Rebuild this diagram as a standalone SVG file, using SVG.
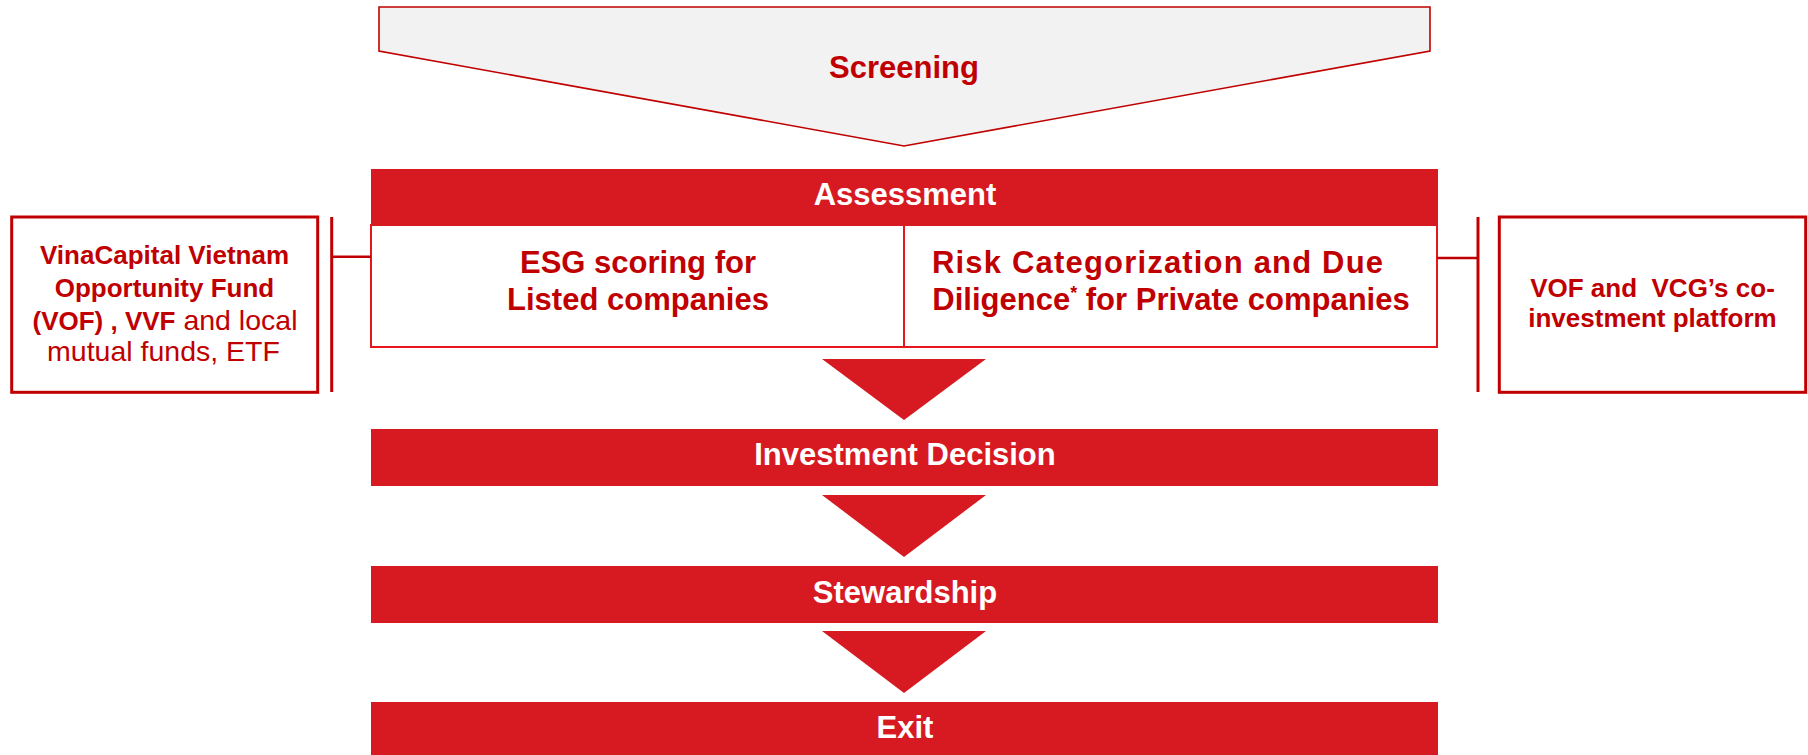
<svg xmlns="http://www.w3.org/2000/svg" width="1808" height="755" viewBox="0 0 1808 755">
  <style>
    .bar { fill: #D71A21; }
    .bar-label { font-family: "Liberation Sans", Arial, sans-serif; font-weight: bold; font-size: 31px; fill: #FFFFFF; text-anchor: middle; }
    .dark-label { font-family: "Liberation Sans", Arial, sans-serif; font-weight: bold; font-size: 31px; fill: #C00000; text-anchor: middle; }
    .side-label { font-family: "Liberation Sans", Arial, sans-serif; font-weight: bold; font-size: 26px; fill: #C00000; text-anchor: middle; }
    .reg { font-weight: normal; font-size: 28.5px; }
    .side-box { fill: #FFFFFF; stroke: #C00000; stroke-width: 3; }
    .cell { fill: #FFFFFF; stroke: #E8151D; stroke-width: 2; }
    .arrow { fill: #D71A21; }
    .link { stroke: #C00000; fill: none; }
  </style>

  <!-- Screening funnel -->
  <g id="screening">
    <polygon points="379,7 1430,7 1430,51 904,146 379,51" fill="#F2F2F2" stroke="#C00000" stroke-width="1.6"/>
    <text class="dark-label" x="904" y="78">Screening</text>
  </g>

  <!-- Assessment stage with its two sub-cells -->
  <g id="assessment">
    <rect class="cell" x="371" y="225" width="533" height="122"/>
    <rect class="cell" x="904" y="225" width="533" height="122"/>
    <rect class="bar" x="371" y="169" width="1067" height="57"/>
    <text class="bar-label" x="905" y="205">Assessment</text>
  </g>

  <g id="esg-scoring">
    <text class="dark-label" x="638" y="273">ESG scoring for</text>
    <text class="dark-label" x="638" y="310">Listed companies</text>
  </g>

  <g id="risk-dd">
    <text class="dark-label" x="932" y="273" text-anchor="start" style="text-anchor:start" textLength="451" lengthAdjust="spacing">Risk Categorization and Due</text>
    <text class="dark-label" x="1171" y="310">Diligence<tspan font-size="18" dy="-11">*</tspan><tspan dy="11"> for Private companies</tspan></text>
  </g>

  <!-- Side boxes -->
  <g id="listed-funds">
    <rect class="side-box" x="11.7" y="217" width="306" height="175.3"/>
    <text class="side-label" x="164.5" y="264">VinaCapital Vietnam</text>
    <text class="side-label" x="164.5" y="297">Opportunity Fund</text>
    <text class="side-label" x="165" y="330">(VOF) , VVF<tspan class="reg"> and local</tspan></text>
    <text class="side-label reg" x="163.5" y="361">mutual funds, ETF</text>
  </g>

  <g id="co-investment">
    <rect class="side-box" x="1499.3" y="217" width="306.4" height="175.3"/>
    <text class="side-label" x="1652.5" y="296.5">VOF and&#160; VCG’s co-</text>
    <text class="side-label" x="1652.5" y="326.5">investment platform</text>
  </g>

  <!-- Later stages -->
  <g id="investment-decision">
    <rect class="bar" x="371" y="429" width="1067" height="57"/>
    <text class="bar-label" x="905" y="465">Investment Decision</text>
  </g>

  <g id="stewardship">
    <rect class="bar" x="371" y="566" width="1067" height="57"/>
    <text class="bar-label" x="905" y="602.5">Stewardship</text>
  </g>

  <g id="exit">
    <rect class="bar" x="371" y="702" width="1067" height="57"/>
    <text class="bar-label" x="905" y="737.5">Exit</text>
  </g>

  <!-- Connectors: flow arrows and side brackets -->
  <g id="connectors">
    <polygon class="arrow" points="822,359 986,359 904,420"/>
    <polygon class="arrow" points="822,495 986,495 904,557"/>
    <polygon class="arrow" points="822,631 986,631 904,693"/>
    <line class="link" x1="331.7" y1="217" x2="331.7" y2="392" stroke-width="3"/>
    <line class="link" x1="331.7" y1="256.7" x2="371" y2="256.7" stroke-width="2.5"/>
    <line class="link" x1="1478" y1="217" x2="1478" y2="392" stroke-width="3"/>
    <line class="link" x1="1437" y1="258" x2="1478" y2="258" stroke-width="2.5"/>
  </g>
</svg>
